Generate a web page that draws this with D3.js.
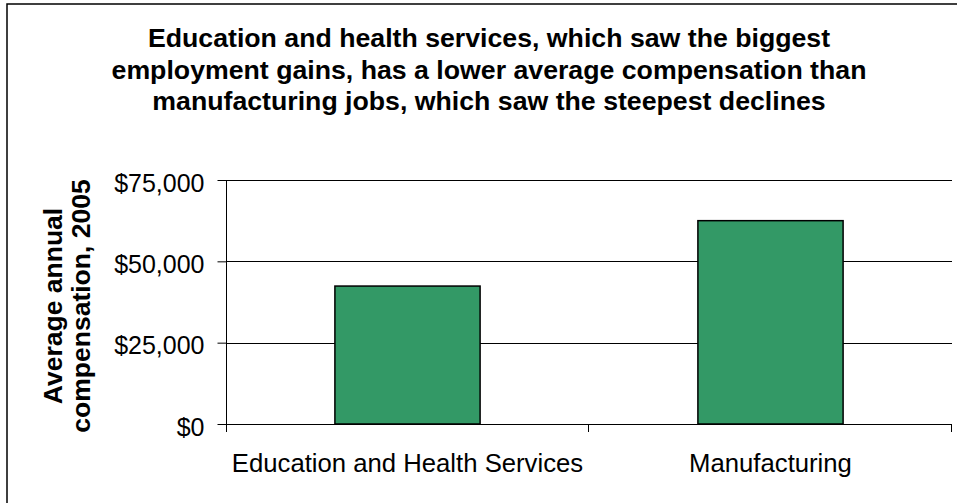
<!DOCTYPE html>
<html>
<head>
<meta charset="utf-8">
<script src="https://cdn.jsdelivr.net/npm/d3@7"></script>
<style>
  body { margin: 0; background: #fff; }
  svg { display: block; font-family: "Liberation Sans", Arial, sans-serif; }
</style>
</head>
<body>
<div id="chart"></div>
<script>
// data
const categories = ["Education and Health Services", "Manufacturing"];
const compensation = [42400, 62500];
const yTicks = [0, 25000, 50000, 75000];
const titleLines = [
  "Education and health services, which saw the biggest",
  "employment gains, has a lower average compensation than",
  "manufacturing jobs, which saw the steepest declines"
];
const yTitleLines = ["Average annual", "compensation, 2005"];

// dimensions
const W = 957;
const H = 503;
const PLOT = { left: 226, right: 952, top: 180, bottom: 424 };
const TICK = 9;
const BAR_FRAC = 0.4;
const GREEN = "#339966";

const $svg = d3.select("#chart").append("svg")
  .attr("width", W)
  .attr("height", H);

// outer frame, runs off the right and bottom edges
$svg.append("rect")
  .attr("x", 7).attr("y", 4)
  .attr("width", W + 20).attr("height", H + 20)
  .attr("fill", "none")
  .attr("stroke", "#000")
  .attr("stroke-width", 1.5);

// scales
const x = d3.scaleBand().domain(categories).range([PLOT.left, PLOT.right]).padding(0);
const y = d3.scaleLinear().domain([0, 75000]).range([PLOT.bottom, PLOT.top]);

// title
$svg.append("text")
  .attr("text-anchor", "middle")
  .attr("font-weight", "bold")
  .attr("font-size", 26.7)
  .selectAll("tspan")
  .data(titleLines)
  .join("tspan")
  .attr("x", 489)
  .attr("y", (d, i) => 47 + i * 31.5)
  .text(d => d);

// gridlines
$svg.append("g")
  .selectAll("line")
  .data(yTicks.filter(d => d > 0))
  .join("line")
  .attr("x1", PLOT.left).attr("x2", PLOT.right)
  .attr("y1", d => Math.round(y(d)) + 0.5)
  .attr("y2", d => Math.round(y(d)) + 0.5)
  .attr("stroke", "#000");

// bars
$svg.append("g")
  .selectAll("rect")
  .data(categories)
  .join("rect")
  .attr("x", d => x(d) + x.bandwidth() * (1 - BAR_FRAC) / 2)
  .attr("width", x.bandwidth() * BAR_FRAC)
  .attr("y", (d, i) => y(compensation[i]))
  .attr("height", (d, i) => y(0) - y(compensation[i]))
  .attr("fill", GREEN)
  .attr("stroke", "#000")
  .attr("stroke-width", 1.5);

// y axis
const yAxis = d3.axisLeft(y)
  .tickValues(yTicks)
  .tickSize(TICK)
  .tickPadding(13)
  .tickFormat(d3.format("$,"));

const $yAxis = $svg.append("g")
  .attr("transform", `translate(${PLOT.left + 0.5},0)`)
  .call(yAxis);
$yAxis.select(".domain").remove();
$yAxis.selectAll(".tick line").attr("stroke", "#000");
$yAxis.selectAll(".tick text")
  .attr("font-size", 25)
  .attr("dy", "0.45em")
  .attr("font-family", "Liberation Sans, Arial, sans-serif")
  .attr("fill", "#000");

// x axis baseline and category boundary ticks
$svg.append("line")
  .attr("x1", PLOT.left).attr("x2", PLOT.right)
  .attr("y1", PLOT.bottom + 0.5).attr("y2", PLOT.bottom + 0.5)
  .attr("stroke", "#000");
$svg.append("line")
  .attr("x1", PLOT.left + 0.5).attr("x2", PLOT.left + 0.5)
  .attr("y1", PLOT.top).attr("y2", PLOT.bottom + 8)
  .attr("stroke", "#000");
$svg.append("g")
  .selectAll("line")
  .data(categories.slice(1).map(d => x(d)).concat([PLOT.right]))
  .join("line")
  .attr("x1", d => Math.round(d) - 0.5).attr("x2", d => Math.round(d) - 0.5)
  .attr("y1", PLOT.bottom).attr("y2", PLOT.bottom + 8)
  .attr("stroke", "#000");

// category labels
$svg.append("g")
  .selectAll("text")
  .data(categories)
  .join("text")
  .attr("x", d => x(d) + x.bandwidth() / 2)
  .attr("y", 472)
  .attr("text-anchor", "middle")
  .attr("font-size", 25.7)
  .text(d => d);

// y axis title
$svg.append("text")
  .attr("transform", "translate(0,306) rotate(-90)")
  .attr("text-anchor", "middle")
  .attr("font-weight", "bold")
  .attr("font-size", 26.5)
  .selectAll("tspan")
  .data(yTitleLines)
  .join("tspan")
  .attr("x", 0)
  .attr("y", (d, i) => 62 + i * 28)
  .text(d => d);
</script>
</body>
</html>
